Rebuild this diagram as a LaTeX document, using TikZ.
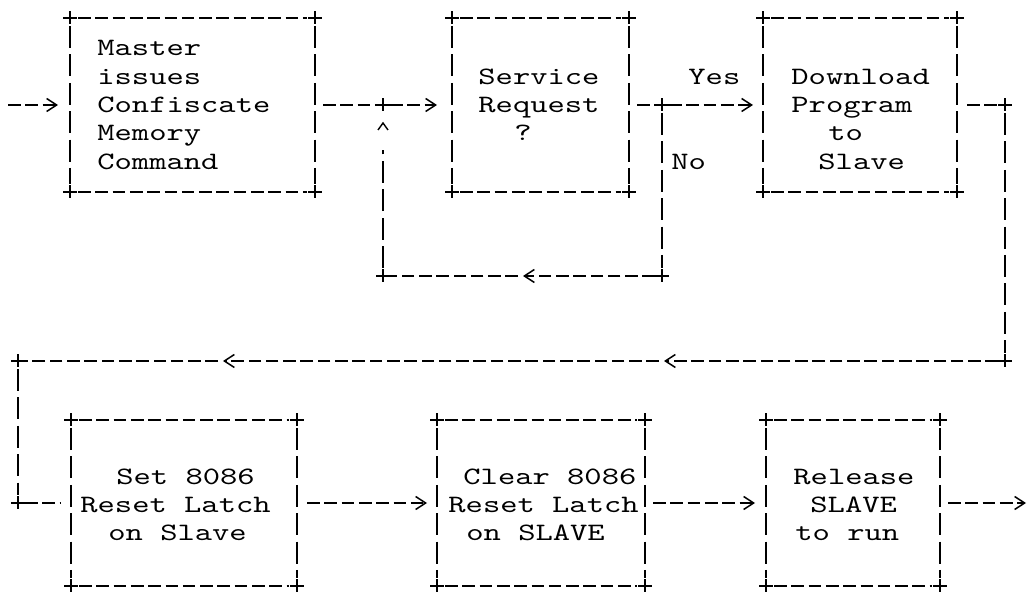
\documentclass[tikz,border=0pt]{standalone}
\usepackage{fontspec}
\newfontfamily\tw{lmmono10-regular.otf}[FakeStretch=1.318]
\usetikzlibrary{arrows.meta,fit,calc}

\tikzset{
  hline/.style={line width=1pt, dash pattern=on 6.3pt off 2.35pt},
  vline/.style={line width=0.6pt, dash pattern=on 11pt off 3.2pt},
  chev/.style={-{Straight Barb[length=5pt,width=6.5pt,line width=0.75pt]}},
  area/.style={inner sep=0pt, outer sep=0pt},
  lbl/.style={font=\tw\fontsize{12.5}{14}\selectfont, inner sep=0pt, anchor=base west},
  crs/.pic={\draw[line width=0.85pt] (-7,0) -- (7,0) (0,-6.5) -- (0,6.5);}
}

% dashed frame with plus-sign corners around a fitted area node
\newcommand\tbox[1]{%
  \draw[hline] ($(#1.north west)+(8,0)$) -- ($(#1.north east)+(-8,0)$);
  \draw[hline] ($(#1.south west)+(8,0)$) -- ($(#1.south east)+(-8,0)$);
  \draw[vline] ($(#1.north west)+(0,8)$) -- ($(#1.south west)+(0,-8)$);
  \draw[vline] ($(#1.north east)+(0,8)$) -- ($(#1.south east)+(0,-8)$);
  \foreach \a in {north west,north east,south west,south east} \pic at (#1.\a) {crs};
}

\begin{document}
\begin{tikzpicture}[x=0.5pt,y=-0.5pt]
\useasboundingbox[fill=white] (0,0) rectangle (1028,592);

% process boxes
\node[area, fit={(70,18) (315,192)}] (b1) {};
\node[area, fit={(452,18) (629,192)}] (b2) {};
\node[area, fit={(763,18) (957,192)}] (b3) {};
\node[area, fit={(71,420) (297,586)}] (b4) {};
\node[area, fit={(437,420) (645,586)}] (b5) {};
\node[area, fit={(766,420) (940,586)}] (b6) {};
\foreach \b in {b1,b2,b3,b4,b5,b6} {\tbox{\b}}

% box texts and branch labels
\foreach \x/\y/\s [count=\i] in {
  97/56/Master, 97/84.3/issues, 97/112.6/Confiscate, 97/140.9/Memory, 97/169.2/Command,
  478/84.3/Service, 478/112.6/Request, 514/141/?,
  791/84.3/Download, 791/112.6/Program, 828/141/to, 818/169.2/Slave,
  688/84.3/Yes, 671/169.2/No,
  116/485/Set 8086, 80/513/Reset Latch, 108/541/on Slave,
  463/485/Clear 8086, 448/513/Reset Latch, 466/541/on SLAVE,
  793/485/Release, 810/513/SLAVE, 795/541/to run}
  \node[lbl] (t\i) at (\x,\y) {\s};

% junctions and path points
\coordinate (in) at (8,105);
\coordinate (j1) at (383,105);
\coordinate (j2) at (662,105);
\coordinate (c3) at (1005,105);
\coordinate (r1) at (383,276);
\coordinate (r2) at (662,276);
\coordinate (lm) at (523,276);
\coordinate (d1) at (1005,361);
\coordinate (m2) at (664,361);
\coordinate (m1) at (223,361);
\coordinate (d2) at (18,361);
\coordinate (e1) at (18,503);
\coordinate (out) at (1026,503);
\foreach \p in {j1,j2,c3,r1,r2,d1,d2,e1} \pic at (\p) {crs};

% upper flow
\draw[hline,chev] (in) -- ($(b1.west)+(-12,0)$);
\draw[hline] ($(b1.east)+(8,0)$) -- ($(j1)+(-7,0)$);
\draw[hline,chev] ($(j1)+(7,0)$) -- ($(b2.west)+(-15,0)$);
\draw[hline] ($(b2.east)+(8,0)$) -- ($(j2)+(-7,0)$);
\draw[hline,chev] ($(j2)+(7,0)$) -- ($(b3.west)+(-10,0)$);
\draw[hline] ($(b3.east)+(10,0)$) -- ($(c3)+(-7,0)$);

% "No" loop back to the request test
\draw[vline] ($(j2)+(0,8)$) -- ($(r2)+(0,-8)$);
\draw[hline,chev] ($(r2)+(-7,0)$) -- (lm);
\draw[hline] ($(lm)+(-5,0)$) -- ($(r1)+(7,0)$);
\draw[vline] ($(r1)+(0,-8)$) -- ($(j1)+(0,45)$);
\draw[line width=0.7pt] ($(j1)+(-5,25)$) -- ($(j1)+(0,18)$) -- ($(j1)+(5,25)$);

% return line to the lower row
\draw[vline] ($(c3)+(0,8)$) -- ($(d1)+(0,-8)$);
\draw[hline,chev] ($(d1)+(-7,0)$) -- (m2);
\draw[hline,chev] ($(m2)+(-5,0)$) -- (m1);
\draw[hline] ($(m1)+(-5,0)$) -- ($(d2)+(7,0)$);
\draw[vline] ($(d2)+(0,8)$) -- ($(e1)+(0,-8)$);
\draw[hline] ($(e1)+(7,0)$) -- ($(b4.west)+(-10,0)$);

% lower flow
\draw[hline,chev] ($(b4.east)+(10,0)$) -- ($(b5.west)+(-10,0)$);
\draw[hline,chev] ($(b5.east)+(8,0)$) -- ($(b6.west)+(-11,0)$);
\draw[hline,chev] ($(b6.east)+(8,0)$) -- (out);
\end{tikzpicture}
\end{document}
